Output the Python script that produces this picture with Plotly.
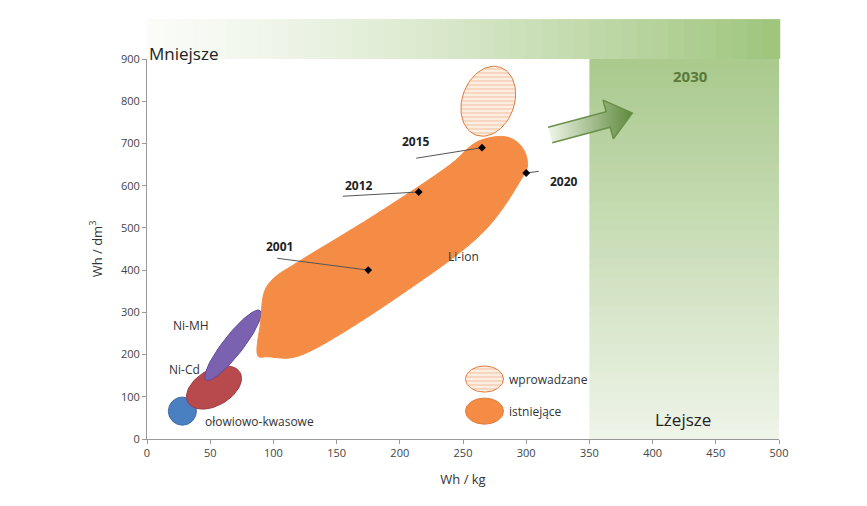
import numpy as np
import plotly.graph_objects as go

years = ["2001", "2012", "2015", "2020"]
yr_x = [175, 215, 265, 300]
yr_y = [400, 585, 690, 630]
lbl_x = [105, 168, 213, 330]
lbl_y = [455, 600, 705, 610]
line_x0 = [103, 155, 213, 310]
line_y0 = [428, 575, 665, 634]

liion_x = [88, 90, 93, 100, 120, 180, 240, 262, 285, 297, 301, 295, 267, 200, 129, 113, 95, 88]
liion_y = [196, 280, 350, 380, 420, 530, 650, 705, 715, 690, 647, 610, 493, 340, 208, 192, 195, 196]

def ell(cx, cy, rx, ry, ang=0, n=80):
    t = np.linspace(0, 2*np.pi, n)
    a = np.radians(ang)
    px, py = rx*np.cos(t), ry*np.sin(t)
    X = px*np.cos(a) - py*np.sin(a)
    Y = px*np.sin(a) + py*np.cos(a)
    return cx + X/1.264, cy + Y/0.4222

fig = go.Figure()
N = 40
for i in range(N):
    f = i/(N-1)
    c = f"rgb({int(250-(250-160)*f**1.3)},{int(252-(252-198)*f**1.3)},{int(248-(248-126)*f**1.3)})"
    fig.add_shape(type="rect", xref="paper", yref="paper", x0=i/N, x1=(i+1)/N+0.002,
                  y0=1, y1=1.105, fillcolor=c, line_width=0, layer="below")
for i in range(N):
    f = i/(N-1)
    c = f"rgb({int(238-(238-170)*f)},{int(244-(244-202)*f)},{int(232-(232-142)*f)})"
    fig.add_shape(type="rect", x0=350, x1=500, y0=900*i/N, y1=900*(i+1)/N+1,
                  fillcolor=c, line_width=0, layer="below")

x, y = ell(28, 66, 14, 14)
fig.add_trace(go.Scatter(x=x, y=y, fill="toself", fillcolor="#4a7fc1", line=dict(color="#3a6aa8", width=1), mode="lines"))
x, y = ell(53, 122, 30, 18, 30)
fig.add_trace(go.Scatter(x=x, y=y, fill="toself", fillcolor="#b84a4e", line=dict(color="#9a3a3e", width=1), mode="lines"))
x, y = ell(68, 222, 44, 10, 52)
fig.add_trace(go.Scatter(x=x, y=y, fill="toself", fillcolor="#7a62b0", line=dict(color="#5f4a96", width=1), mode="lines"))
fig.add_trace(go.Scatter(x=liion_x, y=liion_y, fill="toself", fillcolor="#f58c45", line=dict(color="#f58c45", width=1), mode="lines", line_shape="spline"))
x, y = ell(270, 800, 36, 26, 70)
fig.add_trace(go.Scatter(x=x, y=y, fill="toself", fillcolor="#fde2cf",
                         fillpattern=dict(shape="-", fgcolor="#e8a070", bgcolor="#fdeee2", size=4, solidity=0.3),
                         line=dict(color="#e07a3a", width=1), mode="lines"))
x, y = ell(267, 142, 19, 13)
fig.add_trace(go.Scatter(x=x, y=y, fill="toself", fillcolor="#fde2cf",
                         fillpattern=dict(shape="-", fgcolor="#e8a070", bgcolor="#fdeee2", size=4, solidity=0.3),
                         line=dict(color="#e07a3a", width=1), mode="lines"))
x, y = ell(267, 66, 19, 13)
fig.add_trace(go.Scatter(x=x, y=y, fill="toself", fillcolor="#f58c45", line=dict(color="#e07a3a", width=1), mode="lines"))

for i in range(4):
    fig.add_trace(go.Scatter(x=[line_x0[i], yr_x[i]], y=[line_y0[i], yr_y[i]], mode="lines",
                             line=dict(color="#555", width=1)))
fig.add_trace(go.Scatter(x=yr_x, y=yr_y, mode="markers", marker=dict(symbol="diamond", size=6, color="black")))
for i in range(4):
    fig.add_annotation(x=lbl_x[i], y=lbl_y[i], text=f"<b>{years[i]}</b>", showarrow=False, font=dict(size=12, color="#222"))

ax = [0, 60, 60, 85, 60, 60, 0]
ay = [-8, -8, -20, 0, 20, 8, 8]
a = np.radians(15)
X = [319 + (p*np.cos(a) - q*np.sin(a))/1.264 for p, q in zip(ax, ay)]
Y = [720 + (p*np.sin(a) + q*np.cos(a))/0.4222 for p, q in zip(ax, ay)]
fig.add_trace(go.Scatter(x=X, y=Y, fill="toself", mode="lines", line=dict(color="#6a8f4a", width=1.5),
                         fillgradient=dict(type="horizontal", colorscale=[[0, "#f0f5e8"], [1, "#5e8a3c"]])))

fig.add_annotation(x=35, y=270, text="Ni-MH", showarrow=False, font=dict(size=12, color="#333"))
fig.add_annotation(x=30, y=165, text="Ni-Cd", showarrow=False, font=dict(size=12, color="#333"))
fig.add_annotation(x=44, y=42, text="ołowiowo-kwasowe", showarrow=False, xanchor="left", font=dict(size=12, color="#333"))
fig.add_annotation(x=250, y=432, text="Li-ion", showarrow=False, font=dict(size=12, color="#333"))
fig.add_annotation(x=285, y=142, text="wprowadzane", showarrow=False, xanchor="left", font=dict(size=12, color="#333"))
fig.add_annotation(x=285, y=66, text="istniejące", showarrow=False, xanchor="left", font=dict(size=12, color="#333"))
fig.add_annotation(x=424, y=47, text="Lżejsze", showarrow=False, font=dict(size=17, color="#222"))
fig.add_annotation(x=430, y=860, text="<b>2030</b>", showarrow=False, font=dict(size=15, color="#5a7a3c"))
fig.add_annotation(x=0.0, y=1.05, xref="paper", yref="paper", text="Mniejsze", showarrow=False, xanchor="left",
                   font=dict(size=17, color="#222"))

fig.update_layout(width=867, height=506, showlegend=False, plot_bgcolor="white", paper_bgcolor="white",
                  margin=dict(l=139, r=96, t=51, b=75), font=dict(family="Open Sans, Arial"))
fig.update_xaxes(range=[0, 500], dtick=50, showgrid=False, showline=True, linecolor="#999", ticks="outside",
                 ticklen=4, tickcolor="#999", tickfont=dict(size=11, color="#444"),
                 title=dict(text="Wh / kg", font=dict(size=13, color="#333")), zeroline=False)
fig.update_yaxes(range=[0, 900], dtick=100, showgrid=False, showline=True, linecolor="#999", ticks="outside",
                 ticklen=4, tickcolor="#999", tickfont=dict(size=11, color="#444"),
                 title=dict(text="Wh / dm<sup>3</sup>", font=dict(size=13, color="#333")), zeroline=False)
fig.write_html("out.html")
